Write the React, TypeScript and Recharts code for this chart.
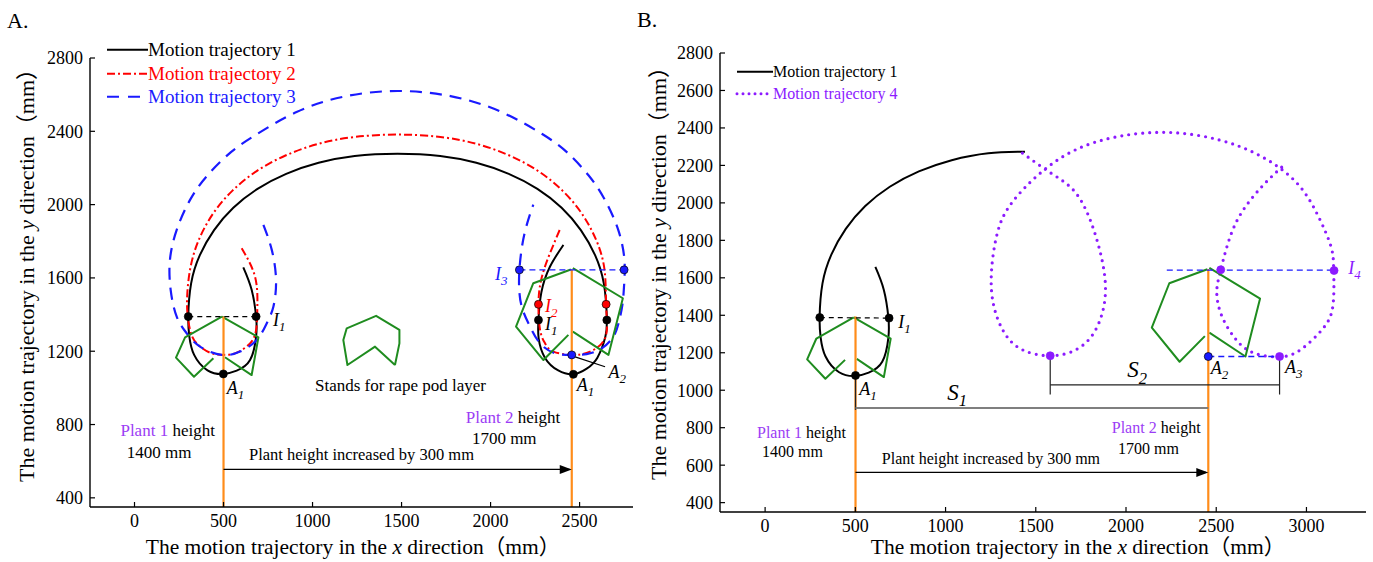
import React from 'react';
import { ComposedChart, Line, XAxis, YAxis, ReferenceDot, Legend } from 'recharts';

const FONT = "'Liberation Serif', 'Times New Roman', 'Noto Sans CJK SC', serif";
const BLUE = '#1a1aff';
const RED = '#ff0000';
const PURPLE = '#8c1aff';
const GREEN = '#1f8c1f';
const ORANGE = '#ff8c1a';
const PLANT_PURPLE = '#9b3cf5';

// ---------- ticks ----------
const ticksAX = [0, 500, 1000, 1500, 2000, 2500];
const ticksAY = [400, 800, 1200, 1600, 2000, 2400, 2800];
const ticksBX = [0, 500, 1000, 1500, 2000, 2500, 3000];
const ticksBY = [400, 600, 800, 1000, 1200, 1400, 1600, 1800, 2000, 2200, 2400, 2600, 2800];

// ---------- trajectories ----------
const traj1X = [611, 658, 683, 683, 649, 574, 499, 410, 335, 308, 302, 318, 367, 447, 555, 691, 852, 1034, 1237, 1477, 1717, 1920, 2102, 2263, 2399, 2507, 2587, 2636, 2653, 2645, 2600, 2540, 2465, 2380, 2305, 2270, 2269, 2285, 2334, 2409];
const traj1Y = [1658, 1535, 1389, 1280, 1152, 1094, 1076, 1096, 1180, 1280, 1389, 1570, 1724, 1861, 1983, 2086, 2168, 2228, 2265, 2277, 2265, 2228, 2168, 2086, 1983, 1861, 1724, 1570, 1389, 1280, 1165, 1105, 1074, 1095, 1165, 1270, 1371, 1520, 1662, 1780];
const traj1BEndX = [1440];
const traj1BEndY = [2273];

const traj2X = [602, 677, 690, 683, 649, 574, 499, 424, 349, 312, 295, 312, 360, 440, 549, 686, 848, 1031, 1236, 1477, 1718, 1923, 2106, 2268, 2405, 2514, 2594, 2640, 2649, 2653, 2625, 2559, 2465, 2353, 2306, 2278, 2269, 2280, 2316, 2390];
const traj2Y = [1762, 1607, 1443, 1316, 1243, 1192, 1180, 1192, 1243, 1316, 1456, 1645, 1805, 1949, 2075, 2183, 2268, 2331, 2369, 2382, 2369, 2331, 2268, 2183, 2075, 1949, 1805, 1645, 1456, 1316, 1243, 1198, 1180, 1198, 1243, 1316, 1456, 1570, 1690, 1866];

const traj3X = [724, 771, 795, 780, 743, 686, 593, 490, 368, 293, 237, 203, 199, 237, 312, 410, 540, 680, 910, 1180, 1477, 1775, 2050, 2290, 2430, 2550, 2642, 2717, 2752, 2750, 2740, 2718, 2690, 2625, 2540, 2456, 2362, 2278, 2222, 2175, 2160, 2165, 2190, 2240];
const traj3Y = [1890, 1753, 1589, 1443, 1353, 1261, 1198, 1180, 1225, 1298, 1389, 1535, 1698, 1862, 2026, 2160, 2285, 2380, 2505, 2590, 2620, 2592, 2510, 2385, 2285, 2160, 2026, 1862, 1698, 1560, 1450, 1350, 1280, 1216, 1184, 1180, 1189, 1243, 1334, 1443, 1560, 1680, 1840, 2000];

const traj4X = [1426, 1584, 1722, 1821, 1880, 1877, 1821, 1722, 1580, 1426, 1327, 1268, 1254, 1287, 1366, 1525, 1722, 1960, 2236, 2513, 2750, 2947, 3066, 3136, 3151, 3146, 3086, 2967, 2851, 2711, 2611, 2532, 2503, 2525, 2592, 2691, 2790, 2888];
const traj4Y = [2266, 2159, 2053, 1857, 1625, 1447, 1305, 1216, 1184, 1216, 1305, 1447, 1625, 1839, 1999, 2159, 2284, 2355, 2376, 2337, 2248, 2106, 1928, 1767, 1639, 1447, 1323, 1216, 1178, 1198, 1269, 1394, 1519, 1643, 1857, 2017, 2124, 2213];

// ---------- rape pod outlines ----------
const pod1LX = [491, 284, 233, 334, 443];
const pod1LY = [1389, 1276, 1165, 1061, 1162];
const pod1RX = [491, 696, 658, 508];
const pod1RY = [1389, 1276, 1070, 1167];
const pod2LX = [2451, 2240, 2143, 2297, 2437];
const pod2LY = [1646, 1571, 1334, 1152, 1289];
const pod2RX = [2462, 2743, 2662, 2462];
const pod2RY = [1653, 1489, 1180, 1307];
const podKeyX = [1463, 1488, 1488, 1357, 1192, 1173, 1196, 1351, 1463];
const podKeyY = [1125, 1243, 1316, 1393, 1325, 1261, 1125, 1225, 1125];

// ---------- guide lines ----------
const plantA1X = [500, 500];
const plantA1Y = [1389, 350];
const plantA2X = [2456, 2456];
const plantA2Y = [1646, 350];
const i1LineAX = [302, 683];
const i1LineAY = [1389, 1389];
const i3LineX = [2162, 2750];
const i3LineY = [1644, 1644];
const a2LeaderX = [2475, 2643];
const a2LeaderY = [1169, 1115];
const arrowAX = [500, 2444];
const arrowAY = [555, 555];

const plantB1X = [501, 501];
const plantB1Y = [1394, 350];
const plantB2X = [2456, 2456];
const plantB2Y = [1647, 350];
const a1DropX = [501, 501];
const a1DropY = [1079, 895];
const i1LineBX = [303, 687];
const i1LineBY = [1388, 1385];
const i4LineX = [2226, 3153];
const i4LineY = [1641, 1641];
const a3LineX = [2456, 2851];
const a3LineY = [1180, 1180];
const s1LineX = [501, 2456];
const s1LineY = [905, 905];
const s2LineX = [1580, 2851];
const s2LineY = [1029, 1029];
const s2LeftX = [1580, 1580];
const s2LeftY = [1184, 977];
const s2RightX = [2851, 2851];
const s2RightY = [1180, 977];
const arrowBX = [501, 2444];
const arrowBY = [561, 561];

// ---------- markers ----------
const mkA_blackX = [302, 683, 499, 2269, 2653, 2465];
const mkA_blackY = [1389, 1389, 1076, 1370, 1370, 1074];
const mkA_redX = [2269, 2649];
const mkA_redY = [1456, 1456];
const mkA_blueX = [2162, 2750, 2456];
const mkA_blueY = [1644, 1644, 1180];
const mkB_blackX = [303, 687, 501];
const mkB_blackY = [1388, 1385, 1079];
const mkB_purpleX = [1580, 2525, 3153, 2851];
const mkB_purpleY = [1184, 1643, 1639, 1180];
const mkB_blueX = [2456];
const mkB_blueY = [1180];

type Pt = { x: number; y: number };
const pts = (xs: number[], ys: number[]): Pt[] => xs.map((x, i) => ({ x, y: ys[i] }));

function path(key: string, data: Pt[], stroke: string, w: number, opts: { dash?: string; type?: any; cap?: any } = {}) {
  return (
    <Line
      key={key}
      data={data}
      dataKey="y"
      type={opts.type ?? 'linear'}
      stroke={stroke}
      strokeWidth={w}
      strokeDasharray={opts.dash}
      strokeLinecap={opts.cap ?? 'butt'}
      strokeLinejoin="round"
      dot={false}
      activeDot={false}
      isAnimationActive={false}
      legendType="none"
    />
  );
}

function markers(key: string, xs: number[], ys: number[], fill: string, r = 4, stroke = '#000') {
  return xs.map((x, i) => (
    <ReferenceDot key={key + i} x={x} y={ys[i]} r={r} fill={fill} stroke={stroke} strokeWidth={0.7} ifOverflow="visible" />
  ));
}

type Part = { t: string; sub?: boolean; color?: string; italic?: boolean };
function note(key: string, x: number, y: number, parts: Part[], size: number, fill = '#000') {
  return (
    <ReferenceDot
      key={key}
      x={x}
      y={y}
      r={0}
      ifOverflow="visible"
      shape={(p: any) => (
        <text x={p.cx} y={p.cy} dy="0.35em" fontFamily={FONT} fontSize={size} fill={fill} style={{ whiteSpace: 'pre' }}>
          {parts.map((pt, i) => (
            <tspan
              key={i}
              fill={pt.color ?? fill}
              fontStyle={pt.italic ? 'italic' : 'normal'}
              fontSize={pt.sub ? size * 0.72 : size}
              dy={pt.sub ? size * 0.28 : undefined}
            >
              {pt.t}
            </tspan>
          ))}
        </text>
      )}
    />
  );
}

const sym = (main: string, sub: string, color?: string): Part[] => [
  { t: main, italic: true, color },
  { t: sub, italic: true, sub: true, color },
];

function arrowHead(key: string, x: number, y: number) {
  return (
    <ReferenceDot
      key={key}
      x={x}
      y={y}
      r={0}
      ifOverflow="visible"
      shape={(p: any) => (
        <path d={`M${p.cx},${p.cy} L${p.cx - 12},${p.cy - 4.5} L${p.cx - 12},${p.cy + 4.5} Z`} fill="#000" />
      )}
    />
  );
}

type LegItem = { label: string; color: string; text: string; dash?: string; w: number; cap?: 'round' | 'butt' };
const legendA: LegItem[] = [
  { label: 'Motion trajectory 1', color: '#000', text: '#000', w: 2.2 },
  { label: 'Motion trajectory 2', color: RED, text: RED, w: 2, dash: '8 3 2 3' },
  { label: 'Motion trajectory 3', color: BLUE, text: BLUE, w: 2.2, dash: '12 9' },
];
const legendB: LegItem[] = [
  { label: 'Motion trajectory 1', color: '#000', text: '#000', w: 2 },
  { label: 'Motion trajectory 4', color: PURPLE, text: PURPLE, w: 3, dash: '0 6', cap: 'round' },
];

function legendContent(items: LegItem[], lineW: number, rowH: number, size: number) {
  return () => (
    <div style={{ fontFamily: FONT, fontSize: size }}>
      {items.map((it) => (
        <div key={it.label} style={{ display: 'flex', alignItems: 'center', height: rowH, whiteSpace: 'nowrap' }}>
          <svg width={lineW} height={rowH} style={{ display: 'block' }}>
            <line x1={2} x2={lineW} y1={rowH / 2} y2={rowH / 2} stroke={it.color} strokeWidth={it.w} strokeDasharray={it.dash} strokeLinecap={it.cap ?? 'butt'} />
          </svg>
          <span style={{ color: it.text, lineHeight: rowH + 'px' }}>{it.label}</span>
        </div>
      ))}
    </div>
  );
}

const axisLine = { stroke: '#000', strokeWidth: 1.4 };
const tickLine = { stroke: '#000', strokeWidth: 1.2 };
const tickStyle = { fill: '#000', fontSize: 18, fontFamily: FONT };

function PanelA() {
  return (
    <ComposedChart width={645} height={562} margin={{ top: 58, right: 12, bottom: 30, left: 0 }}>
      <XAxis type="number" dataKey="x" domain={[-250, 2800]} ticks={ticksAX} interval={0} allowDataOverflow height={25}
        axisLine={axisLine} tickLine={tickLine} tickSize={-5} tickMargin={12} tick={tickStyle} />
      <YAxis type="number" domain={[350, 2800]} ticks={ticksAY} interval={0} allowDataOverflow width={90}
        axisLine={axisLine} tickLine={tickLine} tickSize={-5} tickMargin={12} tick={tickStyle} />
      <Legend layout="vertical" align="center" verticalAlign="middle"
        wrapperStyle={{ position: 'absolute', left: 105, top: 38, width: 260, height: 72 }}
        content={legendContent(legendA, 43, 23.5, 19)} />
      {path('t1', pts(traj1X, traj1Y), '#000', 2, { type: 'natural' })}
      {path('t2', pts(traj2X, traj2Y), RED, 2, { type: 'natural', dash: '8 3 2 3' })}
      {path('t3', pts(traj3X, traj3Y), BLUE, 2.2, { type: 'natural', dash: '12 8' })}
      {path('p1l', pts(pod1LX, pod1LY), GREEN, 2)}
      {path('p1r', pts(pod1RX, pod1RY), GREEN, 2)}
      {path('p2l', pts(pod2LX, pod2LY), GREEN, 2)}
      {path('p2r', pts(pod2RX, pod2RY), GREEN, 2)}
      {path('pk', pts(podKeyX, podKeyY), GREEN, 2)}
      {path('o1', pts(plantA1X, plantA1Y), ORANGE, 2.2)}
      {path('o2', pts(plantA2X, plantA2Y), ORANGE, 2.2)}
      {path('i1', pts(i1LineAX, i1LineAY), '#000', 1.2, { dash: '5 4' })}
      {path('i3', pts(i3LineX, i3LineY), BLUE, 1.3, { dash: '6 4' })}
      {path('a2l', pts(a2LeaderX, a2LeaderY), '#000', 1.2)}
      {path('arr', pts(arrowAX, arrowAY), '#000', 1.3)}
      {arrowHead('ah', 2456, 555)}
      {markers('mb', mkA_blackX, mkA_blackY, '#000')}
      {markers('mr', mkA_redX, mkA_redY, RED)}
      {markers('mu', mkA_blueX, mkA_blueY, BLUE)}
      {note('nI1', 778, 1371, sym('I', '1'), 18)}
      {note('nA1', 518, 1001, sym('A', '1'), 18)}
      {note('nI3', 2025, 1624, sym('I', '3', BLUE), 18, BLUE)}
      {note('nI2', 2306, 1447, sym('I', '2', RED), 18, RED)}
      {note('nI1b', 2306, 1349, sym('I', '1'), 18)}
      {note('nA2', 2662, 1087, sym('A', '2'), 18)}
      {note('nA1b', 2484, 1016, sym('A', '1'), 18)}
      {note('stand', 1014, 1016, [{ t: 'Stands for rape pod layer' }], 17)}
      {note('p1h', -79, 770, [{ t: 'Plant 1', color: PLANT_PURPLE }, { t: ' height' }], 17)}
      {note('p1v', -44, 652, [{ t: '1400 mm' }], 17)}
      {note('p2h', 1861, 843, [{ t: 'Plant 2', color: PLANT_PURPLE }, { t: ' height' }], 17)}
      {note('p2v', 1895, 726, [{ t: '1700 mm' }], 17)}
      {note('inc', 643, 639, [{ t: 'Plant height increased by 300 mm' }], 16.5)}
    </ComposedChart>
  );
}

function PanelB() {
  return (
    <ComposedChart width={733} height={562} margin={{ top: 53, right: 7, bottom: 25, left: 0 }}>
      <XAxis type="number" dataKey="x" domain={[-250, 3330]} ticks={ticksBX} interval={0} allowDataOverflow height={25}
        axisLine={axisLine} tickLine={tickLine} tickSize={-5} tickMargin={12} tick={tickStyle} />
      <YAxis type="number" domain={[350, 2800]} ticks={ticksBY} interval={0} allowDataOverflow width={80}
        axisLine={axisLine} tickLine={tickLine} tickSize={-5} tickMargin={12} tick={tickStyle} />
      <Legend layout="vertical" align="center" verticalAlign="middle"
        wrapperStyle={{ position: 'absolute', left: 95, top: 61, width: 220, height: 44 }}
        content={legendContent(legendB, 38, 21.6, 16)} />
      {path('t1', pts(traj1X.slice(0, 19).concat(traj1BEndX), traj1Y.slice(0, 19).concat(traj1BEndY)), '#000', 2, { type: 'natural' })}
      {path('t4', pts(traj4X, traj4Y), PURPLE, 3.2, { type: 'natural', dash: '0 7', cap: 'round' })}
      {path('p1l', pts(pod1LX, pod1LY), GREEN, 2)}
      {path('p1r', pts(pod1RX, pod1RY), GREEN, 2)}
      {path('p2l', pts(pod2LX, pod2LY), GREEN, 2)}
      {path('p2r', pts(pod2RX, pod2RY), GREEN, 2)}
      {path('o1', pts(plantB1X, plantB1Y), ORANGE, 2.2)}
      {path('o2', pts(plantB2X, plantB2Y), ORANGE, 2.2)}
      {path('a1d', pts(a1DropX, a1DropY), '#222', 1.3)}
      {path('i1', pts(i1LineBX, i1LineBY), '#000', 1.2, { dash: '5 4' })}
      {path('i4', pts(i4LineX, i4LineY), BLUE, 1.3, { dash: '6 4' })}
      {path('a3', pts(a3LineX, a3LineY), BLUE, 1.3, { dash: '6 4' })}
      {path('s1', pts(s1LineX, s1LineY), '#7f7f7f', 2.2)}
      {path('s2', pts(s2LineX, s2LineY), '#222', 1.2)}
      {path('s2l', pts(s2LeftX, s2LeftY), '#222', 1.2)}
      {path('s2r', pts(s2RightX, s2RightY), '#222', 1.2)}
      {path('arr', pts(arrowBX, arrowBY), '#000', 1.3)}
      {arrowHead('ah', 2456, 561)}
      {markers('mb', mkB_blackX, mkB_blackY, '#000')}
      {markers('mp', mkB_purpleX, mkB_purpleY, PURPLE, 4, PURPLE)}
      {markers('mu', mkB_blueX, mkB_blueY, BLUE)}
      {note('nI1', 738, 1366, sym('I', '1'), 18)}
      {note('nA1', 522, 1010, sym('A', '1'), 18)}
      {note('nA2', 2469, 1122, sym('A', '2'), 18)}
      {note('nA3', 2881, 1126, sym('A', '3'), 18)}
      {note('nI4', 3232, 1656, sym('I', '4', PURPLE), 18, PURPLE)}
      {note('nS1', 1010, 992, sym('S', '1'), 23)}
      {note('nS2', 2007, 1112, sym('S', '2'), 23)}
      {note('p1h', -45, 773, [{ t: 'Plant 1', color: PLANT_PURPLE }, { t: ' height' }], 16)}
      {note('p1v', -17, 672, [{ t: '1400 mm' }], 16)}
      {note('p2h', 1921, 804, [{ t: 'Plant 2', color: PLANT_PURPLE }, { t: ' height' }], 16)}
      {note('p2v', 1956, 692, [{ t: '1700 mm' }], 16)}
      {note('inc', 647, 638, [{ t: 'Plant height increased by 300 mm' }], 16)}
    </ComposedChart>
  );
}

export default function App() {
  return (
    <div style={{ position: 'absolute', left: 0, top: 0, width: 1373, height: 562, background: '#fff', overflow: 'hidden' }}>
      <div style={{ position: 'absolute', left: 0, top: 0 }}>
        <PanelA />
      </div>
      <div style={{ position: 'absolute', left: 640, top: 0 }}>
        <PanelB />
      </div>
      <svg width={1373} height={562} style={{ position: 'absolute', left: 0, top: 0, pointerEvents: 'none' }} fontFamily={FONT}>
        <text x={7} y={28} fontSize={22}>A.</text>
        <text x={637} y={27} fontSize={22}>B.</text>
        <text x={353} y={554} fontSize={21.5} textAnchor="middle" style={{ whiteSpace: 'pre' }}>
          {'The motion trajectory in the '}<tspan fontStyle="italic">x</tspan>{' direction（mm）'}
        </text>
        <text x={1078} y={554} fontSize={21.5} textAnchor="middle" style={{ whiteSpace: 'pre' }}>
          {'The motion trajectory in the '}<tspan fontStyle="italic">x</tspan>{' direction（mm）'}
        </text>
        <text transform="translate(33.5,270) rotate(-90)" fontSize={22} textAnchor="middle" style={{ whiteSpace: 'pre' }}>
          {'The motion trajectory in the '}<tspan fontStyle="italic">y</tspan>{' direction（mm）'}
        </text>
        <text transform="translate(666,268) rotate(-90)" fontSize={22} textAnchor="middle" style={{ whiteSpace: 'pre' }}>
          {'The motion trajectory in the '}<tspan fontStyle="italic">y</tspan>{' direction（mm）'}
        </text>
      </svg>
    </div>
  );
}
